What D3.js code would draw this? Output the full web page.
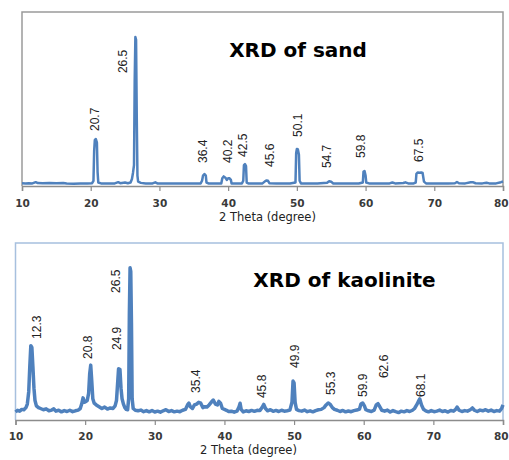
<!DOCTYPE html>
<html>
<head>
<meta charset="utf-8">
<script src="https://cdn.jsdelivr.net/npm/d3@7"></script>
<style>
  body { margin: 0; background: #fff; }
</style>
</head>
<body>
<script>
// 2 theta (degree) vs intensity (arbitrary units)
var thetaTicks = [10, 20, 30, 40, 50, 60, 70, 80];

var sandPattern = [
  [10,1.6],[10.5,1.5],[11,1.6],[11.5,1.5],[12,2.2],[12.3,1.7],[13,1.6],[14,1.7],[15,1.6],[16,1.7],
  [16.5,1.4],[17.5,1.3],[18.5,1.4],[19.5,1.4],[20.2,1.6],[20.4,3],[20.5,20],[20.6,26.5],[20.75,27],
  [20.9,25],[21.0,8],[21.1,2],[21.5,1.5],[22.5,1.4],[23.5,1.5],[24,2.2],[24.3,1.6],[25,2.0],[25.4,1.6],
  [25.8,2],[26.0,4],[26.15,7.5],[26.3,12],[26.4,60],[26.5,85.6],[26.6,84],[26.7,40],[26.8,6],[26.9,2.5],
  [27.3,1.8],[28,1.5],[29,1.5],[29.4,2.1],[29.7,1.5],[31,1.4],[32,1.4],[33,1.4],[34,1.4],[35,1.4],
  [36,1.5],[36.2,3],[36.35,6],[36.55,6.9],[36.75,6],[36.85,2],[37.2,1.4],[38,1.4],[39,1.5],[39.15,4.5],
  [39.35,5.5],[39.6,4.8],[39.8,3.5],[40,4.5],[40.2,4.4],[40.4,3.5],[40.5,1.5],[41,1.4],[42,1.4],
  [42.2,3],[42.3,12],[42.45,12.6],[42.6,11.5],[42.7,2],[43,1.4],[44,1.4],[45,1.5],[45.4,2.8],[45.6,3.2],
  [45.8,3],[46,1.6],[47,1.4],[48,1.4],[49,1.4],[49.8,2],[49.9,19],[50.0,21.3],[50.15,21],[50.3,18],
  [50.4,3],[50.6,1.5],[52,1.4],[53,1.4],[54.4,1.8],[54.7,2.7],[55,2.4],[55.3,1.5],[56,1.4],[57,1.4],
  [58,1.4],[59,1.4],[59.6,2],[59.7,8.3],[59.85,8.6],[60.0,6],[60.1,2],[60.5,1.5],[62,1.4],[63.5,1.5],
  [63.9,2],[64.3,1.5],[65.5,1.7],[65.8,2.1],[66.2,1.5],[67,1.5],[67.3,2],[67.4,7],[67.6,7.8],[67.9,7.6],
  [68.1,7.8],[68.3,7.5],[68.5,2.5],[68.8,1.5],[70,1.4],[71,1.4],[72,1.4],[73,1.6],[73.3,2.3],[73.6,1.6],
  [74.5,1.5],[75.3,2.1],[75.6,2.2],[76,1.6],[77,1.5],[77.6,1.9],[78,1.5],[79,1.5],[79.7,2.2],[80,2.6]
];
var sandPeaks = ["20.7", "26.5", "36.4", "40.2", "42.5", "45.6", "50.1", "54.7", "59.8", "67.5"];
// where each peak label sits (2 theta, intensity)
var sandLabelAt = [[20.62,31.6],[24.7,64.9],[36.34,13.2],[39.9,13.2],[42.16,16.7],[46.1,10.9],
  [50.17,28.2],[54.4,10.3],[59.3,16.1],[67.8,13.8]];

var kaoPattern = [
  [10,4.5],[10.3,5.5],[10.6,5],[10.9,6],[11.2,5.8],[11.5,7],[11.7,9],[11.9,16],[12.05,30],[12.2,42],
  [12.35,41],[12.5,30],[12.65,18],[12.8,11],[13.0,8],[13.3,7],[13.6,6.5],[14,5.8],[14.4,6.3],[14.8,5.2],
  [15.2,5.6],[15.5,6.3],[15.8,5],[16.2,5.5],[16.6,4.6],[17,5.3],[17.4,4.8],[17.8,5.5],[18.2,4.7],
  [18.6,5.2],[19,5.6],[19.3,6.5],[19.5,9],[19.7,12.5],[19.9,10],[20.1,10.5],[20.3,11],[20.5,15],
  [20.65,26],[20.8,31],[20.95,22],[21.1,12],[21.3,9.5],[21.6,8.5],[22,7.5],[22.4,6.5],[22.8,7.3],
  [23.2,6.2],[23.6,6.8],[24,6.5],[24.3,8],[24.5,11],[24.65,20],[24.8,29],[25.0,28.5],[25.15,18],
  [25.3,12],[25.5,9],[25.7,7],[25.9,6],[26.1,5.8],[26.25,12],[26.35,60],[26.45,86],[26.55,84],
  [26.65,55],[26.75,12],[26.9,6.5],[27.2,5.5],[27.6,5.2],[28,5.6],[28.4,4.7],[28.8,5.3],[29.2,4.6],
  [29.6,5.4],[30,4.5],[30.4,5],[30.8,4.4],[31.2,5.2],[31.6,5.8],[32,4.8],[32.4,5.3],[32.8,4.6],[33.2,5],
  [33.6,4.7],[34,5.5],[34.4,6],[34.7,8.5],[34.9,9.5],[35.1,7.5],[35.4,6.5],[35.7,8.5],[36,9],[36.3,10],
  [36.6,9.5],[36.9,7],[37.2,7.5],[37.5,7.3],[37.8,8.5],[38.1,10],[38.4,11.3],[38.7,9],[39.0,8.5],
  [39.2,10.5],[39.45,9.5],[39.7,6.5],[40,6],[40.3,5.5],[40.6,4.8],[41,5],[41.4,4.4],[41.8,5],[42.1,7.5],
  [42.25,9.5],[42.4,6],[42.7,4.6],[43.1,5.2],[43.5,4.8],[43.9,5.4],[44.3,4.9],[44.7,5.5],[45.1,5.3],
  [45.4,7],[45.65,8.8],[45.9,6.5],[46.2,5.2],[46.6,5.8],[47,4.9],[47.4,5.4],[47.8,4.8],[48.2,5.5],
  [48.6,5],[49,5.2],[49.4,5.6],[49.7,10],[49.85,22],[50.0,21],[50.15,10],[50.35,6],[50.7,5.3],[51.1,5],
  [51.5,5.6],[51.9,4.7],[52.3,5.2],[52.7,4.6],[53.1,5.3],[53.5,5.8],[53.9,6],[54.3,7],[54.6,8.5],
  [54.9,9.6],[55.2,8.8],[55.5,7],[55.8,6],[56.2,5.5],[56.6,4.8],[57,5.4],[57.4,4.6],[57.8,5.1],
  [58.2,4.7],[58.6,5.3],[59,5.6],[59.4,6.2],[59.6,9],[59.85,9.6],[60.1,8],[60.3,5.8],[60.7,5.2],
  [61.1,4.8],[61.5,5.6],[61.8,8.5],[62.05,9.2],[62.3,7.5],[62.6,5.5],[63,5],[63.4,5.6],[63.8,4.5],
  [64.2,5.3],[64.6,4.7],[65,4.2],[65.4,5],[65.8,4.6],[66.2,5.3],[66.6,4.8],[67,5.5],[67.3,6.5],
  [67.6,8.5],[67.85,10.5],[68.05,11.9],[68.3,8.5],[68.6,6],[68.9,5.2],[69.3,4.6],[69.7,5.3],[70.1,4.7],
  [70.5,5],[70.9,5.6],[71.3,4.8],[71.7,5.2],[72.1,4.5],[72.5,5.4],[72.9,5],[73.2,6],[73.4,7.3],
  [73.7,5.5],[74.1,4.8],[74.5,5.3],[74.9,5],[75.3,5.8],[75.6,6.8],[75.9,5.5],[76.3,4.8],[76.7,5.6],
  [77.1,5.2],[77.5,5.8],[77.9,5],[78.3,5.6],[78.7,4.8],[79.1,5.3],[79.5,5],[79.8,6.5],[80,8.5]
];
var kaoPeaks = ["12.3", "20.8", "24.9", "26.5", "35.4", "45.8", "49.9", "55.3", "59.9", "62.6", "68.1"];
var kaoLabelAt = [[13.08,45.8],[20.4,34.5],[24.56,39.5],[24.4,71.8],[35.9,15.3],[45.3,12.4],
  [50.1,29.4],[55.27,14.1],[59.85,13],[62.87,23.7],[68.18,13]];

var svg = d3.select("body").append("svg")
    .attr("width", 509)
    .attr("height", 460);

function drawPanel(p) {
    var x = d3.scaleLinear().domain([10, 80]).range([p.left, p.right]);
    var y = d3.scaleLinear().domain([0, 100]).range([p.bottom, p.top]);

    // box round the plot area (left, top, right)
    svg.append("path")
        .attr("d", "M" + p.left + "," + p.bottom + "V" + p.top + "H" + p.right + "V" + p.bottom)
        .attr("fill", "none")
        .attr("stroke", p.frame)
        .attr("stroke-width", 1.5);

    var axis = svg.append("g")
        .attr("transform", "translate(0," + p.bottom + ")")
        .call(d3.axisBottom(x).tickValues(thetaTicks).tickSize(5).tickPadding(p.tickPad).tickFormat(d3.format("d")));
    axis.select(".domain").attr("stroke", "#8c8c8c").attr("stroke-width", 1.5);
    axis.selectAll(".tick line").attr("stroke", "#8c8c8c").attr("stroke-width", 1.2);
    axis.selectAll("text")
        .style("font-family", "DejaVu Sans")
        .style("font-weight", "bold")
        .style("font-size", "10.5px")
        .attr("fill", "#3a3a3a");
    // keep the last label inside the picture
    axis.selectAll(".tick text")
        .filter(function(d) { return d === 80; })
        .attr("text-anchor", "end")
        .attr("x", 5);

    svg.append("text")
        .attr("x", p.xTitleX)
        .attr("y", p.xTitleY)
        .attr("text-anchor", "middle")
        .style("font-family", "DejaVu Sans")
        .style("font-size", "11.5px")
        .attr("fill", "#222")
        .text("2 Theta (degree)");

    var line = d3.line()
        .x(function(d) { return x(d[0]); })
        .y(function(d) { return y(d[1]); });

    svg.append("path")
        .datum(p.data)
        .attr("d", line)
        .attr("fill", "none")
        .attr("stroke", "#4f81bd")
        .attr("stroke-width", p.lineWidth)
        .attr("stroke-linejoin", "round");

    // peak labels, rotated to read upwards
    svg.selectAll(null)
        .data(p.peaks)
        .enter().append("text")
        .attr("transform", function(d, i) {
            return "translate(" + (x(p.labelAt[i][0]) + 4.3) + "," + y(p.labelAt[i][1]) + ")rotate(-90)";
        })
        .style("font-family", "Liberation Sans")
        .style("font-size", "12px")
        .attr("fill", "#222")
        .text(function(d) { return d; });

    svg.append("text")
        .attr("x", p.titleX)
        .attr("y", p.titleY)
        .attr("text-anchor", "middle")
        .style("font-family", "DejaVu Sans")
        .style("font-weight", "bold")
        .style("font-size", "20px")
        .attr("fill", "#000")
        .text(p.title);
}

drawPanel({
    left: 22, right: 503, top: 12, bottom: 186,
    frame: "#9a9a9a", lineWidth: 2.5, tickPad: 8.5,
    data: sandPattern, peaks: sandPeaks, labelAt: sandLabelAt,
    title: "XRD of sand", titleX: 298, titleY: 57,
    xTitleX: 267.5, xTitleY: 221
});

drawPanel({
    left: 15.5, right: 503, top: 243, bottom: 420,
    frame: "#a7c0de", lineWidth: 3.5, tickPad: 7.5,
    data: kaoPattern, peaks: kaoPeaks, labelAt: kaoLabelAt,
    title: "XRD of kaolinite", titleX: 344.5, titleY: 287,
    xTitleX: 248.5, xTitleY: 454
});
</script>
</body>
</html>
